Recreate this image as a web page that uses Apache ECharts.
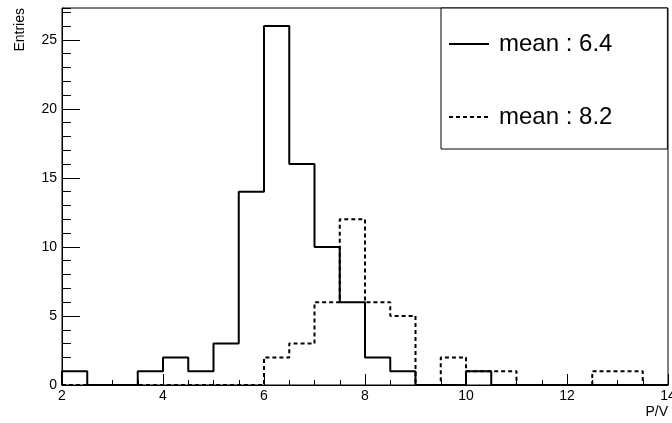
<!DOCTYPE html>
<html>
<head>
<meta charset="utf-8">
<script src="https://cdn.jsdelivr.net/npm/echarts@6/dist/echarts.min.js"></script>
<style>
html,body{margin:0;padding:0;background:#fff;}
#chart{width:672px;height:423px;}
</style>
</head>
<body>
<div id="chart"></div>
<script>
// Bin lower edges (bin width 0.5) and upper limit
const binLow = [2, 2.5, 3, 3.5, 4, 4.5, 5, 5.5, 6, 6.5, 7, 7.5, 8, 8.5, 9, 9.5, 10, 10.5, 11, 11.5, 12, 12.5, 13, 13.5];
const binHigh = 14;
// Solid histogram (mean : 6.4)
const countsA = [1, 0, 0, 1, 2, 1, 3, 14, 26, 16, 10, 6, 2, 1, 0, 0, 1, 0, 0, 0, 0, 0, 0, 0];
// Dashed histogram (mean : 8.2)
const countsB = [0, 0, 0, 0, 0, 0, 0, 0, 2, 3, 6, 12, 6, 5, 0, 2, 1, 1, 0, 0, 0, 1, 1, 0];
const seriesNames = ['mean : 6.4', 'mean : 8.2'];
const xTitle = 'P/V';
const yTitle = 'Entries';
const yMax = 27.3;

function stepData(counts) {
  const pts = [[binLow[0], 0]];
  for (let i = 0; i < binLow.length; i++) pts.push([binLow[i], counts[i]]);
  pts.push([binHigh, counts[counts.length - 1]]);
  return pts;
}

const font = 'Liberation Sans, Arial, Helvetica, sans-serif';
const chart = echarts.init(document.getElementById('chart'), null, {renderer: 'canvas'});
chart.setOption({
  animation: false,
  backgroundColor: '#fff',
  grid: {left: 62, right: 4, top: 8, bottom: 38, containLabel: false, outerBoundsMode: 'none',
         show: true, borderColor: '#000', borderWidth: 1, backgroundColor: 'transparent'},
  legend: {
    orient: 'vertical',
    left: 441, top: 8,
    padding: [23, 55, 19, 7],
    itemWidth: 40, itemHeight: 26, itemGap: 47,
    itemStyle: {opacity: 0, color: 'transparent', borderWidth: 0},
    backgroundColor: '#fff', borderColor: '#000', borderWidth: 1, borderRadius: 0,
    textStyle: {fontFamily: font, fontSize: 24, color: '#000', lineHeight: 26, padding: [0, 0, 0, 5]},
    data: seriesNames
  },
  xAxis: {
    type: 'value', min: 2, max: 14, interval: 2,
    name: xTitle, nameLocation: 'end', nameGap: 0,
    nameTextStyle: {fontFamily: font, fontSize: 14, color: '#000', align: 'right', verticalAlign: 'top', padding: [20, 0, 0, 0]},
    axisLine: {show: true, onZero: false, lineStyle: {color: '#000', width: 1}},
    axisTick: {show: true, inside: true, length: 11, lineStyle: {color: '#000'}},
    minorTick: {show: true, splitNumber: 4, length: 5, lineStyle: {color: '#000'}},
    axisLabel: {fontFamily: font, fontSize: 14, color: '#000', margin: 4},
    splitLine: {show: false}
  },
  yAxis: [{
    type: 'value', min: 0, max: yMax, interval: 5, position: 'left',
    name: yTitle, nameLocation: 'end', nameGap: 0, nameRotate: 90,
    nameTextStyle: {fontFamily: font, fontSize: 14, color: '#000', align: 'right', verticalAlign: 'bottom', padding: [0, 0, 35, 0]},
    axisLine: {show: true, lineStyle: {color: '#000', width: 1}},
    axisTick: {show: true, inside: true, length: 18, lineStyle: {color: '#000'}},
    axisLabel: {fontFamily: font, fontSize: 14, color: '#000', margin: 5, showMaxLabel: false},
    splitLine: {show: false}
  }, {
    type: 'value', min: 0, max: yMax, interval: 1, position: 'left', offset: 0,
    axisLine: {show: false},
    axisTick: {show: true, inside: true, length: 9, lineStyle: {color: '#000'}},
    axisLabel: {show: false},
    splitLine: {show: false}
  }],
  series: [{
    name: seriesNames[0], type: 'line', step: 'end', yAxisIndex: 0,
    data: stepData(countsA), showSymbol: false, symbol: 'none', clip: false,
    lineStyle: {color: '#000', width: 2, type: 'solid'}, itemStyle: {color: '#000'},
    emphasis: {disabled: true}, z: 3
  }, {
    name: seriesNames[1], type: 'line', step: 'end', yAxisIndex: 0,
    data: stepData(countsB), showSymbol: false, symbol: 'none', clip: false,
    lineStyle: {color: '#000', width: 2, type: [4, 3]}, itemStyle: {color: '#000'},
    emphasis: {disabled: true}, z: 2
  }]
});
</script>
</body>
</html>
